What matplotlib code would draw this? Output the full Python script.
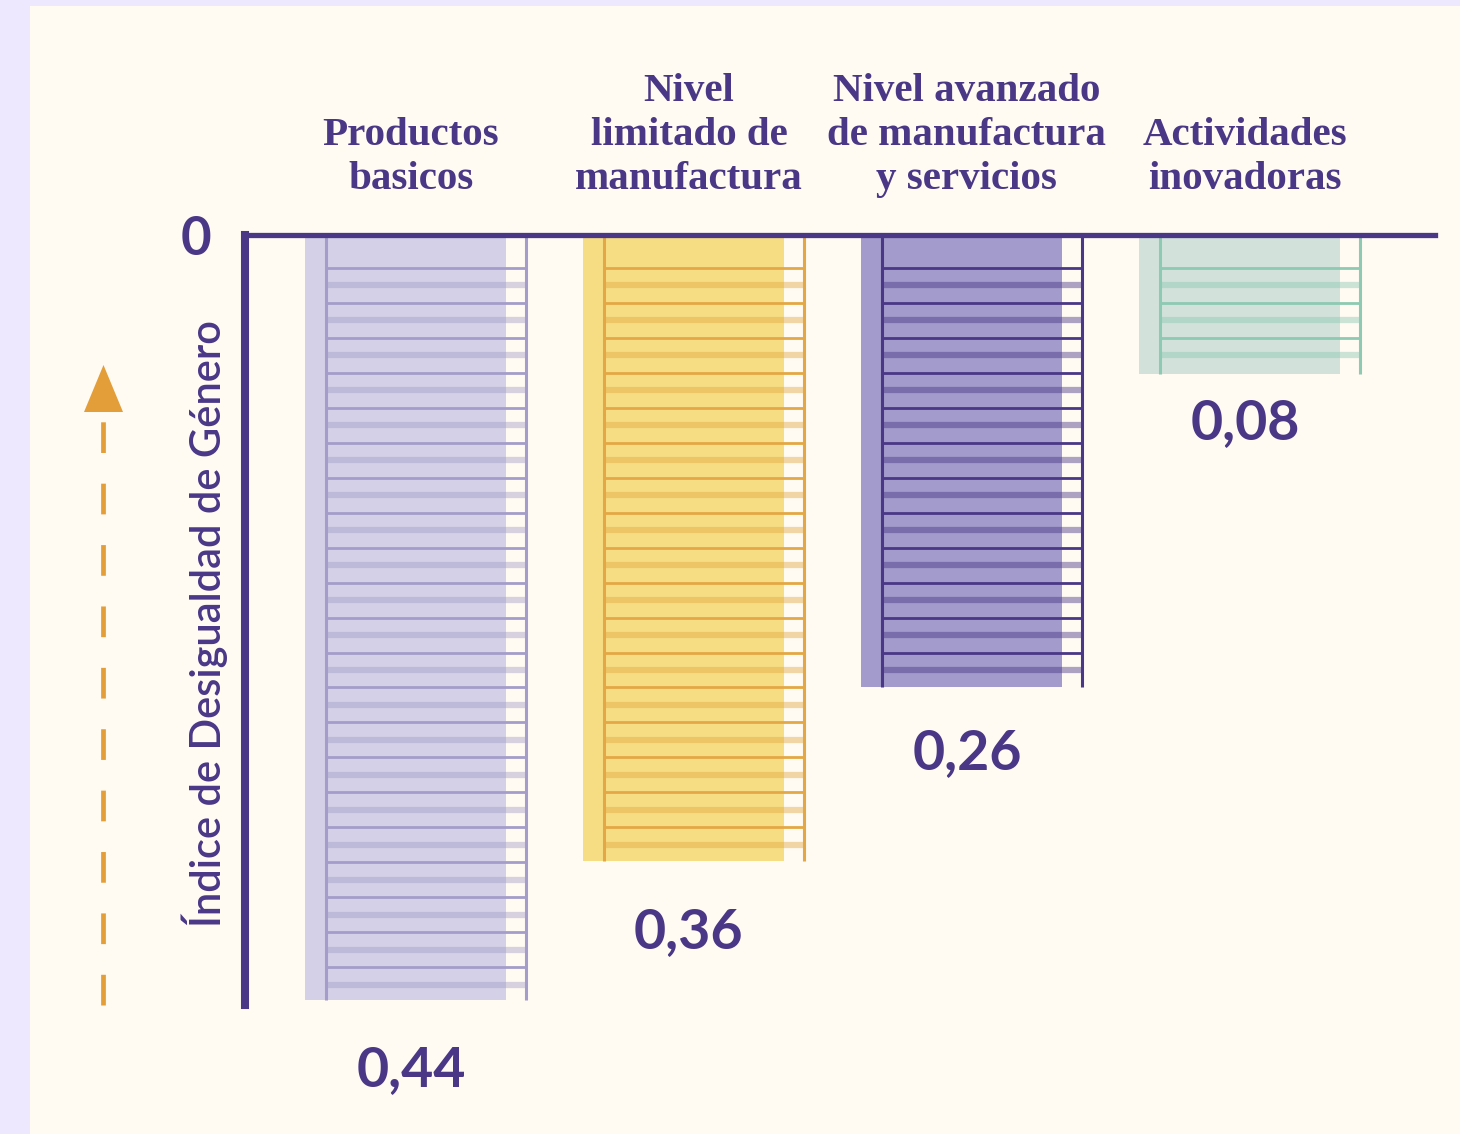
import numpy as np
import matplotlib
matplotlib.use("Agg")
import matplotlib.pyplot as plt
from matplotlib.patches import Rectangle, Polygon

# data
categories = ["Productos\nbasicos",
              "Nivel\nlimitado de\nmanufactura",
              "Nivel avanzado\nde manufactura\ny servicios",
              "Actividades\ninovadoras"]
values = [0.44, 0.36, 0.26, 0.08]
fill_colors = ["#D3D0E7", "#F6DD84", "#A39BCB", "#D2E2DB"]
line_colors = ["#A49DCA", "#E3A845", "#4A3786", "#8DC9B3"]
y_label = "Índice de Desigualdad de Género"

ink = "#4A3786"
orange = "#E39E3A"
W, H = 1460, 1134

fig = plt.figure(figsize=(W / 100, H / 100), dpi=100)
fig.patch.set_facecolor("#EEE8FE")

# background panel + arrow, in pixel coordinates
bg = fig.add_axes([0, 0, 1, 1], zorder=0)
bg.set_xlim(0, W)
bg.set_ylim(H, 0)
bg.axis("off")
bg.add_patch(Rectangle((30, 6), W - 30, H - 6, facecolor="#FFFAF2", edgecolor="none"))
bg.plot([103, 103], [1005, 410], color=orange, lw=3.4, dashes=(6.5, 6.5))
bg.add_patch(Polygon([(84, 412), (123, 412), (103.5, 365)], closed=True,
                     facecolor=orange, edgecolor="none"))

# main chart (bar i starts at x = i, one unit = 278 px)
ax = fig.add_axes([245 / W, 1 - 1104.5 / H, (1435 - 245) / W, 869.5 / H], zorder=1)
ax.patch.set_alpha(0)
ax.set_ylim(0.5, 0)
ax.set_xlim((245 - 305) / 278, (1435 - 305) / 278)

x = np.arange(len(values))
ax.bar(x, values, width=0.724, align="edge", color=fill_colors, edgecolor="none", zorder=1)

for i, v in enumerate(values):
    l0, l1 = i + 0.074, i + 0.80
    solid = np.arange(0.019, v - 0.004, 0.0201)
    light = np.arange(0.029, v - 0.004, 0.0201)
    ax.hlines(light, l0, l1, color=line_colors[i], lw=4.5, alpha=0.45, zorder=2)
    ax.hlines(solid, l0, l1, color=line_colors[i], lw=2.0, zorder=3)
    ax.vlines([l0, l1 - 0.004], 0, v, color=line_colors[i], lw=2.2, zorder=3)

# spines
for s in ["right", "bottom"]:
    ax.spines[s].set_visible(False)
ax.spines["top"].set_color(ink)
ax.spines["top"].set_linewidth(3.8)
ax.spines["left"].set_color(ink)
ax.spines["left"].set_linewidth(5.8)
ax.spines["left"].set_bounds(0, 0.4425)
ax.spines["top"].set_zorder(5)

ax.set_xticks([])
ax.set_yticks([0])
ax.set_yticklabels(["0"])
ax.tick_params(axis="y", length=0, pad=24, labelsize=38, labelcolor=ink)
for t in ax.get_yticklabels():
    t.set_fontfamily("Lato")
    t.set_fontweight("bold")

label_gap = [0.040, 0.041, 0.038, 0.028]
for i, (c, v) in enumerate(zip(categories, values)):
    ax.text(i + 0.381, -0.021, c, ha="center", va="bottom", fontsize=29.5,
            family="Liberation Serif", fontweight="bold", color=ink,
            linespacing=1.26, clip_on=False)
    ax.text(i + 0.381, v + label_gap[i], f"{v:.2f}".replace(".", ","),
            ha="center", va="center", fontsize=40, family="Lato",
            fontweight="bold", color=ink, clip_on=False)

fig.text(205 / W, 1 - 624 / H, y_label, rotation=90, ha="center", va="center",
         fontsize=30, family="Lato", fontweight="semibold", color=ink)

fig.savefig("out.png", dpi=100, facecolor=fig.get_facecolor())
